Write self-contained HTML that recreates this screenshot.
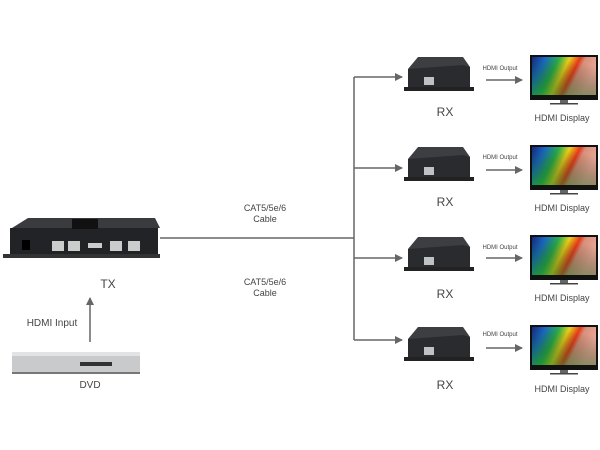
<!DOCTYPE html>
<html><head><meta charset="utf-8"><style>
html,body{margin:0;padding:0;background:#fff;}
svg{display:block;font-family:"Liberation Sans",sans-serif;}
</style></head><body>
<svg width="600" height="450" viewBox="0 0 600 450">
<defs>
<linearGradient id="scr" x1="0" y1="0" x2="1" y2="0.3">
<stop offset="0" stop-color="#1a2a8a"/><stop offset="0.2" stop-color="#1b6fd0"/>
<stop offset="0.4" stop-color="#2bb24a"/><stop offset="0.55" stop-color="#e8d21a"/>
<stop offset="0.7" stop-color="#e8381a"/><stop offset="0.78" stop-color="#d8907a"/>
<stop offset="1" stop-color="#e9a898"/></linearGradient>
<linearGradient id="scr2" x1="0" y1="1" x2="0.4" y2="0">
<stop offset="0" stop-color="#1a8a2a" stop-opacity="0.6"/><stop offset="1" stop-color="#000" stop-opacity="0"/></linearGradient>
<g id="rx">
<polygon points="0,12 10,0 55,0 62,10 62,30 5,34 0,30" fill="#3c3e42"/>
<polygon points="0,12 55,8 62,10 62,30 5,34 0,30" fill="#2a2b2e"/>
<rect x="16" y="20" width="10" height="8" fill="#bfc2c5"/>
<rect x="-4" y="30" width="70" height="4" fill="#222"/>
</g>
<g id="disp">
<rect x="0" y="0" width="68" height="45" fill="#111"/>
<rect x="2" y="2" width="64" height="38" fill="url(#scr)"/>
<rect x="2" y="2" width="64" height="38" fill="url(#scr2)"/>
<rect x="30" y="45" width="8" height="3" fill="#666"/>
<rect x="20" y="48" width="28" height="1.5" fill="#444"/>
</g>
<marker id="ah" markerWidth="8" markerHeight="8" refX="7" refY="4" orient="auto" markerUnits="userSpaceOnUse"><path d="M0,0 L8,4 L0,8z" fill="#666"/></marker>
</defs>
<g stroke="#666" stroke-width="1.5" fill="none">
<line x1="160" y1="238" x2="354" y2="238"/>
<line x1="354" y1="77" x2="354" y2="340"/>
<line x1="354" y1="77" x2="402" y2="77" marker-end="url(#ah)"/>
<line x1="354" y1="168" x2="402" y2="168" marker-end="url(#ah)"/>
<line x1="354" y1="258" x2="402" y2="258" marker-end="url(#ah)"/>
<line x1="354" y1="340" x2="402" y2="340" marker-end="url(#ah)"/>
<line x1="486" y1="80" x2="522" y2="80" marker-end="url(#ah)"/>
<line x1="486" y1="170" x2="522" y2="170" marker-end="url(#ah)"/>
<line x1="486" y1="258" x2="522" y2="258" marker-end="url(#ah)"/>
<line x1="486" y1="348" x2="522" y2="348" marker-end="url(#ah)"/>
<line x1="90" y1="342" x2="90" y2="298" marker-end="url(#ah)"/>
</g>
<!-- TX -->
<polygon points="12,228 28,218 155,218 160,228" fill="#3a3b3e"/>
<rect x="10" y="228" width="148" height="30" fill="#222326"/>
<rect x="72" y="219" width="26" height="10" fill="#111"/>
<rect x="3" y="254" width="157" height="4" fill="#333"/>
<rect x="22" y="240" width="8" height="10" fill="#000"/>
<rect x="52" y="241" width="12" height="10" fill="#ccc"/><rect x="68" y="241" width="12" height="10" fill="#ccc"/>
<rect x="88" y="243" width="14" height="5" fill="#ccc"/>
<rect x="110" y="241" width="12" height="10" fill="#ccc"/><rect x="128" y="241" width="12" height="10" fill="#ccc"/>
<!-- DVD -->
<rect x="12" y="352" width="128" height="20" fill="#c9cacc"/>
<rect x="12" y="352" width="128" height="4" fill="#e2e3e5"/>
<rect x="80" y="362" width="32" height="4" fill="#333"/>
<rect x="12" y="372" width="128" height="2" fill="#777"/>
<use href="#rx" x="408" y="57"/><use href="#rx" x="408" y="147"/>
<use href="#rx" x="408" y="237"/><use href="#rx" x="408" y="327"/>
<use href="#disp" x="530" y="55"/><use href="#disp" x="530" y="145"/>
<use href="#disp" x="530" y="235"/><use href="#disp" x="530" y="325"/>
<g fill="#444" text-anchor="middle">
<text x="108" y="288" font-size="12">TX</text>
<text x="52" y="326" font-size="10">HDMI Input</text>
<text x="90" y="388" font-size="10">DVD</text>
<text x="265" y="211" font-size="9">CAT5/5e/6</text><text x="265" y="222" font-size="9">Cable</text>
<text x="265" y="285" font-size="9">CAT5/5e/6</text><text x="265" y="296" font-size="9">Cable</text>
<text x="445" y="116" font-size="12">RX</text><text x="445" y="206" font-size="12">RX</text>
<text x="445" y="298" font-size="12">RX</text><text x="445" y="389" font-size="12">RX</text>
<text x="500" y="70" font-size="6">HDMI Output</text><text x="500" y="159" font-size="6">HDMI Output</text>
<text x="500" y="249" font-size="6">HDMI Output</text><text x="500" y="336" font-size="6">HDMI Output</text>
<text x="562" y="121" font-size="9">HDMI Display</text><text x="562" y="211" font-size="9">HDMI Display</text>
<text x="562" y="301" font-size="9">HDMI Display</text><text x="562" y="392" font-size="9">HDMI Display</text>
</g>
</svg>
</body></html>
